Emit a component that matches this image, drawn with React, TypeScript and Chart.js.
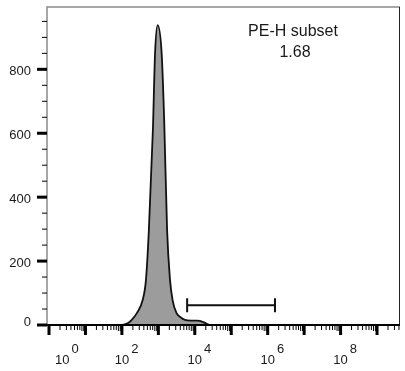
import React, { useEffect, useRef } from "react";
import { Chart, registerables } from "chart.js";

Chart.register(...registerables);

// Histogram: x in log10 units of PE-H, y = count
const xLog = [-0.05, 1.95, 2.05, 2.17, 2.27, 2.41, 2.57, 2.66, 2.74, 2.85, 2.91, 2.98, 3.09, 3.16, 3.24, 3.32, 3.39, 3.5, 3.6, 3.73, 3.9, 4.05, 4.14, 4.25, 4.34, 4.45, 9.63];
const counts = [0, 0, 1, 6, 16, 37, 78, 141, 297, 610, 851, 938, 851, 641, 297, 141, 78, 37, 25, 16, 14, 14, 13, 8, 3, 0, 0];

const yMajorTicks = [0, 200, 400, 600, 800];
const xDecadeLabels = [0, 2, 4, 6, 8];

const gateFrom = 3.79;
const gateTo = 6.2;
const gateLevel = 62;
const gateName = "PE-H subset";
const gateValue = "1.68";

const FONT = '"Liberation Sans", Arial, sans-serif';

const axesPlugin = {
  id: "flowAxes",
  afterDatasetsDraw(chart: any) {
    const { ctx, chartArea: a, scales } = chart;
    const x = scales.x;
    const y = scales.y;
    ctx.save();

    // frame
    ctx.strokeStyle = "#8a8a8a";
    ctx.lineWidth = 1.5;
    ctx.beginPath();
    ctx.moveTo(a.left, a.bottom);
    ctx.lineTo(a.left, a.top);
    ctx.lineTo(a.right, a.top);
    ctx.stroke();
    ctx.strokeStyle = "#222";
    ctx.lineWidth = 1;
    ctx.beginPath();
    ctx.moveTo(a.right - 0.5, a.top);
    ctx.lineTo(a.right - 0.5, a.bottom);
    ctx.stroke();
    ctx.strokeStyle = "#000";
    ctx.lineWidth = 2;
    ctx.beginPath();
    ctx.moveTo(a.left - 1, a.bottom);
    ctx.lineTo(a.right, a.bottom);
    ctx.stroke();

    // x ticks
    ctx.fillStyle = "#000";
    for (let d = 0; d <= 9; d++) {
      const px = x.getPixelForValue(d);
      ctx.fillRect(px - 1.5, a.bottom, 3, 10);
      for (let m = 2; m <= 9; m++) {
        const v = d + Math.log10(m);
        if (v > x.max) break;
        const pm = x.getPixelForValue(v);
        ctx.fillRect(pm - 0.5, a.bottom, 1, m >= 8 ? 6 : 5);
      }
    }

    // y ticks
    for (let v = 0; v <= y.max; v += 50) {
      const py = y.getPixelForValue(v);
      if (v % 200 === 0) ctx.fillRect(a.left - 10, py - 1.5, 10, 3);
      else ctx.fillRect(a.left - 5, py - 0.5, 5, 1);
    }

    // y labels
    ctx.fillStyle = "#1a1a1a";
    ctx.font = `13px ${FONT}`;
    ctx.textAlign = "right";
    ctx.textBaseline = "middle";
    for (const v of yMajorTicks) {
      const py = y.getPixelForValue(v);
      ctx.fillText(String(v), 31, py + (v === 0 ? -3 : 2));
    }

    // x labels: 10^e
    ctx.textAlign = "left";
    ctx.textBaseline = "alphabetic";
    for (const e of xDecadeLabels) {
      const px = x.getPixelForValue(e);
      ctx.font = `13px ${FONT}`;
      const w = ctx.measureText("10").width;
      const left = Math.max(px - w / 2, 55);
      ctx.fillText("10", left, 364);
      ctx.font = `13px ${FONT}`;
      ctx.fillText(String(e), left + w + 2, 353);
    }

    // gate
    const g1 = x.getPixelForValue(gateFrom);
    const g2 = x.getPixelForValue(gateTo);
    const gy = y.getPixelForValue(gateLevel);
    ctx.strokeStyle = "#111";
    ctx.lineWidth = 2;
    ctx.beginPath();
    ctx.moveTo(g1, gy);
    ctx.lineTo(g2, gy);
    ctx.moveTo(g1, gy - 7);
    ctx.lineTo(g1, gy + 7);
    ctx.moveTo(g2, gy - 7);
    ctx.lineTo(g2, gy + 7);
    ctx.stroke();

    // gate label
    ctx.fillStyle = "#1a1a1a";
    ctx.textAlign = "center";
    ctx.textBaseline = "middle";
    ctx.font = `16px ${FONT}`;
    ctx.fillText(gateName, 293, 32);
    ctx.fillText(gateValue, 295, 53);

    ctx.restore();
  },
};

export default function App() {
  const ref = useRef<HTMLCanvasElement | null>(null);
  useEffect(() => {
    if (!ref.current) return;
    const chart = new Chart(ref.current, {
      type: "line",
      data: {
        datasets: [
          {
            data: xLog.map((v, i) => ({ x: v, y: counts[i] })),
            fill: "origin",
            backgroundColor: "#9c9c9c",
            borderColor: "#111",
            borderWidth: 1.8,
            pointRadius: 0,
            cubicInterpolationMode: "monotone",
          },
        ],
      },
      options: {
        responsive: false,
        animation: false,
        layout: { padding: { left: 47, top: 7, right: 5, bottom: 46 } },
        plugins: { legend: { display: false }, tooltip: { enabled: false } },
        scales: {
          x: { type: "linear", min: -0.055, max: 9.63, display: false },
          y: { type: "linear", min: 0, max: 995, display: false },
        },
      },
      plugins: [axesPlugin],
    } as any);
    return () => chart.destroy();
  }, []);
  return (
    <div style={{ position: "fixed", left: 0, top: 0, width: 405, height: 371, background: "#fff" }}>
      <canvas ref={ref} width={405} height={371} style={{ display: "block" }} />
    </div>
  );
}
